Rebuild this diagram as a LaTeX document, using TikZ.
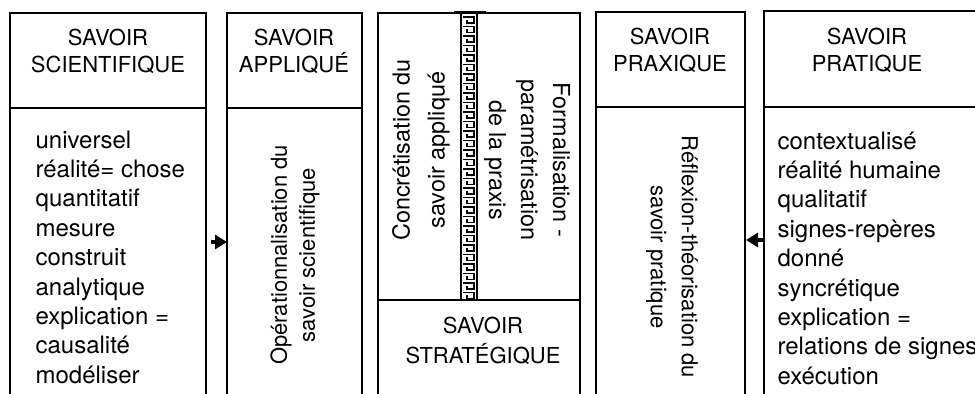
\documentclass[tikz,border=0pt]{standalone}
\usepackage{fontspec}
\setmainfont{TeX Gyre Heros}
\usetikzlibrary{arrows.meta}

\begin{document}
\begin{tikzpicture}[x=0.5pt, y=-0.5pt, line width=0.6pt,
    every node/.style={inner sep=0pt},
    head/.style={align=center, font=\fontsize{11}{13.5}\selectfont},
    body/.style={align=left, anchor=north west, font=\fontsize{12}{14.7}\selectfont},
    upturn/.style={align=center, rotate=90},
    downturn/.style={align=center, rotate=-90},
    flow/.style={line width=1.6pt, -{Triangle[length=6pt, width=7pt]}}]
    \useasboundingbox (0,0) rectangle (975,394);
    \clip (0,0) rectangle (975,394);

    \draw (10,400) -- (10,13) -- (206,13) -- (206,400);
    \draw (10,108) -- (206,108);
    \draw (227,400) -- (227,13) -- (362,13) -- (362,400);
    \draw (227,108) -- (362,108);
    \draw (378,400) -- (378,13) -- (580,13) -- (580,400);
    \draw (378,300) -- (580,300);
    \draw (596,400) -- (596,12) -- (745,12) -- (745,400);
    \draw (596,107) -- (745,107);
    \draw (764,400) -- (764,11) -- (990,11) -- (990,400);
    \draw (764,107) -- (990,107);

    \draw (461,13) -- (461,300);
    \draw (477,13) -- (477,300);
    \draw[line width=1.5pt] (454,13) -- (486,13);
    \foreach \k in {0,...,29}
        \draw[line width=0.6pt] (463,{17+9.5*\k}) -- ++(11,0) -- ++(0,6) -- ++(-7,0) -- ++(0,-3);

    \node[head] (hsci) at (108,51) {SAVOIR\\SCIENTIFIQUE};
    \node[head] (happ) at (294,51) {SAVOIR\\APPLIQUÉ};
    \node[head] (hprx) at (670,50) {SAVOIR\\PRAXIQUE};
    \node[head] (hpta) at (867,50) {SAVOIR\\PRATIQUE};
    \node[head, font=\fontsize{11}{15}\selectfont] (hstr) at (483,341) {SAVOIR\\STRATÉGIQUE};

    \node[body] (lsci) at (35,130) {universel\\réalité= chose\\quantitatif\\mesure\\construit\\analytique\\explication =\\causalité\\modéliser};
    \node[body] (lpta) at (777,131) {contextualisé\\réalité humaine\\qualitatif\\signes-repères\\donné\\syncrétique\\explication =\\relations de signes\\exécution};

    \node[upturn, font=\fontsize{11}{14}\selectfont] (oper) at (295,255) {Opérationnalisation du\\savoir scientifique};
    \node[upturn, font=\fontsize{11.7}{17.5}\selectfont] (conc) at (421,150) {Concrétisation du\\savoir appliqué};
    \node[downturn, font=\fontsize{11.7}{16}\selectfont] (form) at (527,160) {Formalisation -\\paramétrisation\\de la praxis};
    \node[downturn, font=\fontsize{11}{15.5}\selectfont] (refl) at (672,257) {Réflexion-théorisation du\\savoir pratique};

    \coordinate (sciout) at (211,242);
    \coordinate (appin) at (227,242);
    \coordinate (ptaout) at (763,240);
    \coordinate (prxin) at (746,240);
    \draw[flow] (sciout) -- (appin);
    \draw[flow] (ptaout) -- (prxin);
\end{tikzpicture}
\end{document}
